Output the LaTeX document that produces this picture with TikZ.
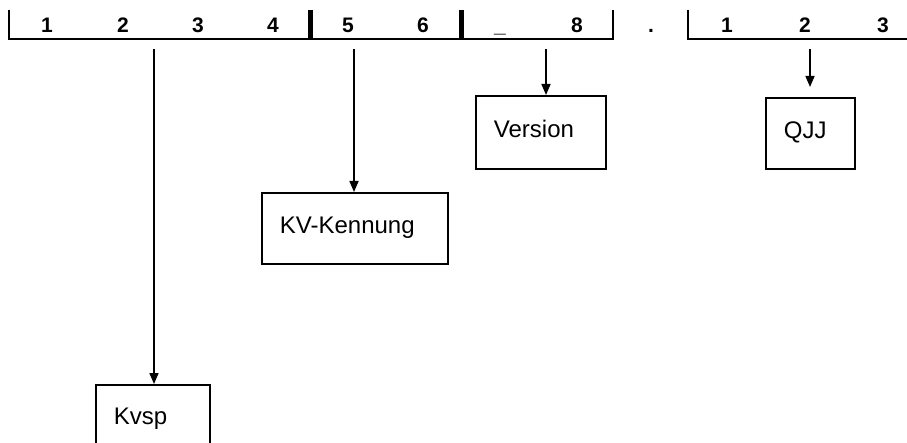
\documentclass[tikz,border=0pt]{standalone}
\usepackage{fontspec}
\setmainfont{Liberation Sans}
\usetikzlibrary{arrows.meta}

\begin{document}
\begin{tikzpicture}[x=1pt,y=-1pt,
  digit/.style={font=\fontsize{21}{25}\selectfont\bfseries,anchor=base},
  field/.style={draw,line width=1.8pt,anchor=north west,align=left,
    inner xsep=18pt,inner ysep=0pt,text height=18pt,text depth=8pt,
    font=\fontsize{24}{28}\selectfont},
  pointer/.style={-{Triangle[length=11pt,width=9pt]},line width=1.6pt}]

\useasboundingbox (0,0) rectangle (907,443);

% Ruler
\draw[line width=2.2pt] (9,10)--(9,39)--(613,39)--(613,10);
\draw[line width=2.2pt] (688,10)--(688,39)--(907,39);
\fill (307.5,10) rectangle (312.5,40);
\fill (458.5,10) rectangle (463.5,40);

% Digits
\foreach \x/\d [count=\i] in {47/1,123/2,198/3,273/4,348/5,423/6,500/\_,577/8,651/.,727/1,805/2,883/3}
  \node[digit] (d\i) at (\x,32.5) {\d};

% Boxes
\node[field,text width=78pt,minimum height=70pt] (kvsp) at (95,384) {Kvsp};
\node[field,text width=150pt,minimum height=71pt] (kennung) at (261,192) {KV-Kennung};
\node[field,text width=94pt,minimum height=73pt] (version) at (475,95) {Version};
\node[field,text width=53pt,minimum height=71pt] (qjj) at (765,97) {QJJ};

% Pointers
\coordinate (p1) at (154,49);
\coordinate (p2) at (354,49);
\coordinate (p3) at (546,49);
\coordinate (p4) at (810,49);
\draw[pointer] (p1)--(p1 |- kvsp.north);
\draw[pointer] (p2)--(p2 |- kennung.north);
\draw[pointer] (p3)--(p3 |- version.north);
\draw[pointer,shorten >=10pt] (p4)--(p4 |- qjj.north);

\end{tikzpicture}
\end{document}
